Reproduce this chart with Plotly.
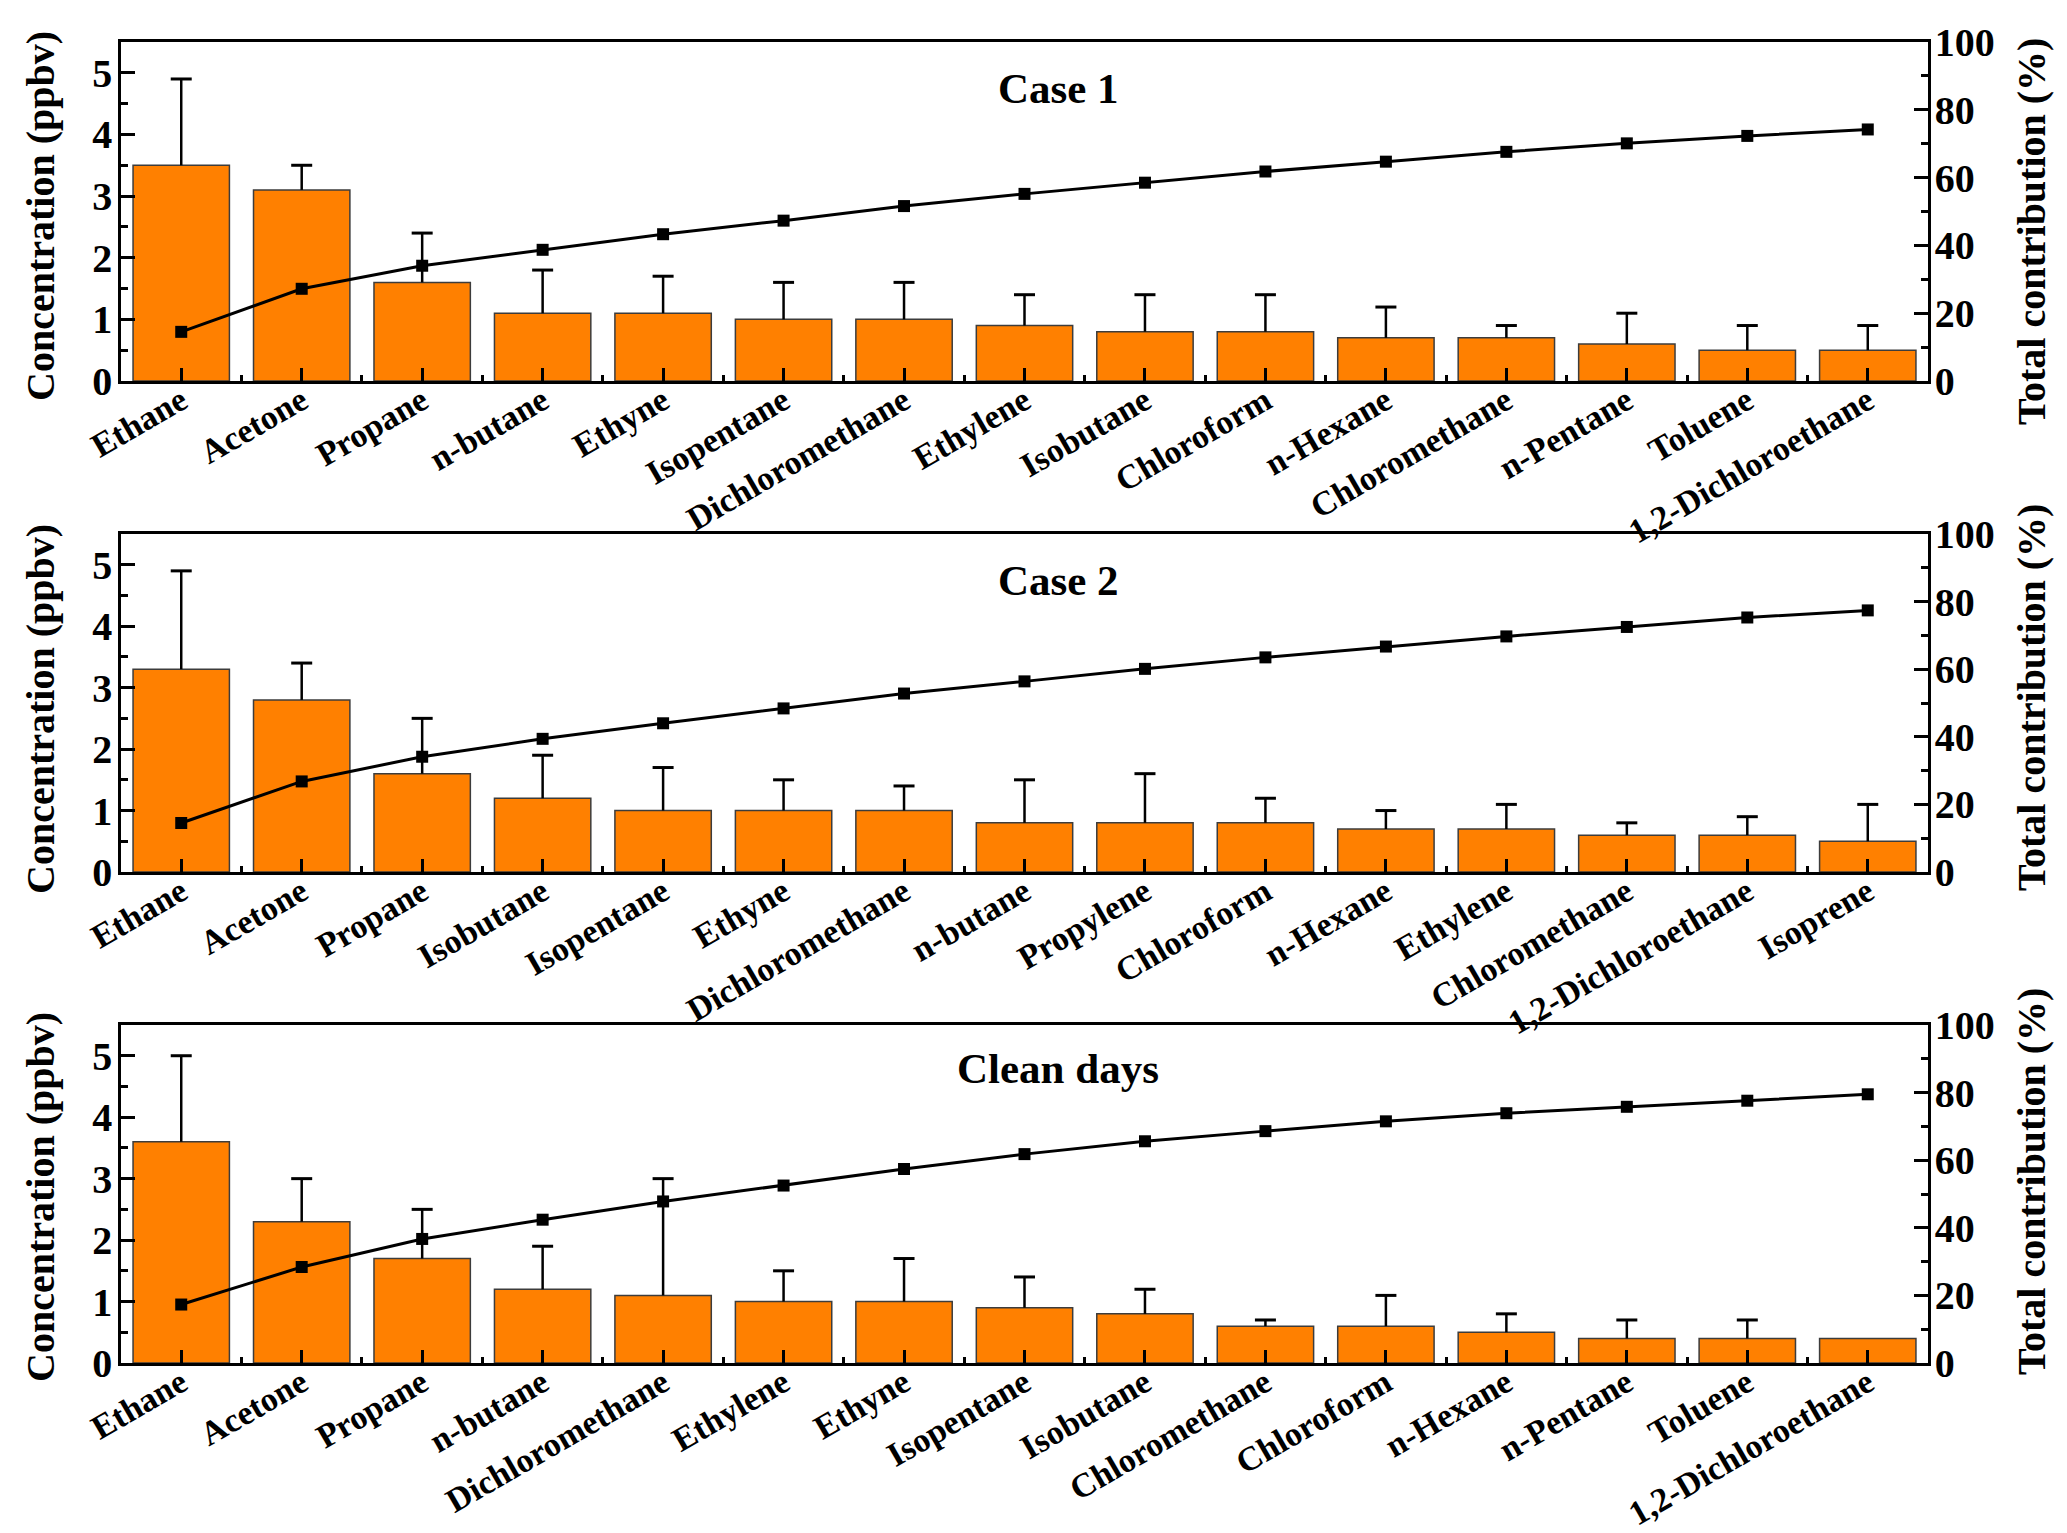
import plotly.graph_objects as go

# ---------------- data ----------------
case1_species = ["Ethane", "Acetone", "Propane", "n-butane", "Ethyne", "Isopentane",
                 "Dichloromethane", "Ethylene", "Isobutane", "Chloroform", "n-Hexane",
                 "Chloromethane", "n-Pentane", "Toluene", "1,2-Dichloroethane"]
case1_conc = [3.5, 3.1, 1.6, 1.1, 1.1, 1.0, 1.0, 0.9, 0.8, 0.8, 0.7, 0.7, 0.6, 0.5, 0.5]
case1_err = [1.4, 0.4, 0.8, 0.7, 0.6, 0.6, 0.6, 0.5, 0.6, 0.6, 0.5, 0.2, 0.5, 0.4, 0.4]
case1_cum = [14.5, 27.2, 34.0, 38.7, 43.3, 47.3, 51.6, 55.2, 58.5, 61.8, 64.7, 67.6, 70.1, 72.3, 74.2]

case2_species = ["Ethane", "Acetone", "Propane", "Isobutane", "Isopentane", "Ethyne",
                 "Dichloromethane", "n-butane", "Propylene", "Chloroform", "n-Hexane",
                 "Ethylene", "Chloromethane", "1,2-Dichloroethane", "Isoprene"]
case2_conc = [3.3, 2.8, 1.6, 1.2, 1.0, 1.0, 1.0, 0.8, 0.8, 0.8, 0.7, 0.7, 0.6, 0.6, 0.5]
case2_err = [1.6, 0.6, 0.9, 0.7, 0.7, 0.5, 0.4, 0.7, 0.8, 0.4, 0.3, 0.4, 0.2, 0.3, 0.6]
case2_cum = [14.5, 26.8, 34.1, 39.4, 44.0, 48.4, 52.8, 56.4, 60.1, 63.5, 66.7, 69.7, 72.5, 75.3, 77.4]

clean_species = ["Ethane", "Acetone", "Propane", "n-butane", "Dichloromethane", "Ethylene",
                 "Ethyne", "Isopentane", "Isobutane", "Chloromethane", "Chloroform",
                 "n-Hexane", "n-Pentane", "Toluene", "1,2-Dichloroethane"]
clean_conc = [3.6, 2.3, 1.7, 1.2, 1.1, 1.0, 1.0, 0.9, 0.8, 0.6, 0.6, 0.5, 0.4, 0.4, 0.4]
clean_err = [1.4, 0.7, 0.8, 0.7, 1.9, 0.5, 0.7, 0.5, 0.4, 0.1, 0.5, 0.3, 0.3, 0.3, 0.0]
clean_cum = [17.3, 28.4, 36.7, 42.4, 47.8, 52.5, 57.4, 61.8, 65.6, 68.6, 71.5, 73.9, 75.8, 77.6, 79.5]

panel_titles = ["Case 1", "Case 2", "Clean days"]
left_title = "Concentration (ppbv)"
right_title = "Total contribution (%)"

# ---------------- style ----------------
W, H = 2067, 1533
FONT = "Liberation Serif"
ORANGE = "#FF8000"
x_dom = [121 / W, 1928 / W]
panel_px = [(42, 381), (534, 872), (1025, 1363)]  # top, bottom pixel rows
title_y_px = [88, 580, 1068]
left_title_px = [216, 709, 1197]
right_title_px = [232, 698, 1182]

panels = [
    (case1_species, case1_conc, case1_err, case1_cum),
    (case2_species, case2_conc, case2_err, case2_cum),
    (clean_species, clean_conc, clean_err, clean_cum),
]

fig = go.Figure()
layout = dict(
    width=W, height=H,
    margin=dict(l=0, r=0, t=0, b=0, autoexpand=False),
    paper_bgcolor="white", plot_bgcolor="white",
    showlegend=False,
    font=dict(family=FONT, color="black"),
)
annotations = []

for k, (species, conc, err, cum) in enumerate(panels):
    n = k + 1
    xname = "x" if n == 1 else f"x{n}"
    yl = 2 * k + 1
    yr = 2 * k + 2
    ylname = "y" if yl == 1 else f"y{yl}"
    yrname = f"y{yr}"
    idx = list(range(len(species)))

    fig.add_trace(go.Bar(
        x=idx, y=conc, width=0.8,
        marker=dict(color=ORANGE, line=dict(color="#3c3c3c", width=1.5)),
        xaxis=xname, yaxis=ylname,
    ))
    # upper-only error bars
    ex, ey, cx, cy = [], [], [], []
    for i, v, e in zip(idx, conc, err):
        if e > 0:
            ex += [i, i, None]
            ey += [v, v + e, None]
            cx.append(i)
            cy.append(v + e)
    fig.add_trace(go.Scatter(
        x=ex, y=ey, mode="lines", line=dict(color="black", width=2.5),
        xaxis=xname, yaxis=ylname, hoverinfo="skip",
    ))
    fig.add_trace(go.Scatter(
        x=cx, y=cy, mode="markers",
        marker=dict(symbol="line-ew", size=15, line=dict(color="black", width=3)),
        xaxis=xname, yaxis=ylname,
    ))
    # cumulative contribution
    fig.add_trace(go.Scatter(
        x=idx, y=cum, mode="lines+markers",
        line=dict(color="black", width=3),
        marker=dict(symbol="square", size=12, color="black"),
        xaxis=xname, yaxis=yrname,
    ))

    top, bot = panel_px[k]
    ydom = [1 - bot / H, 1 - top / H]
    tickfont = dict(family=FONT, size=40, color="black", weight="bold")

    layout["xaxis" if n == 1 else f"xaxis{n}"] = dict(
        domain=x_dom, anchor=ylname, range=[-0.5, len(species) - 0.5],
        tickmode="array", tickvals=idx, ticktext=species, tickangle=-30,
        ticks="inside", ticklen=13, tickwidth=2.5, tickcolor="black",
        minor=dict(tick0=0.5, dtick=1, ticks="inside", ticklen=6, tickwidth=2.5, tickcolor="black"),
        showline=True, linewidth=2.5, linecolor="black", mirror=True,
        showgrid=False, zeroline=False, automargin=False,
        ticklabelstandoff=-16,
        tickfont=dict(family=FONT, size=34, color="black", weight="bold"),
    )
    layout["yaxis" if yl == 1 else f"yaxis{yl}"] = dict(
        domain=ydom, anchor=xname, range=[0, 5.5],
        tickmode="linear", tick0=0, dtick=1,
        ticks="inside", ticklen=14, tickwidth=2.5, tickcolor="black",
        minor=dict(tick0=0, dtick=0.5, ticks="inside", ticklen=7, tickwidth=2.5, tickcolor="black"),
        showline=True, linewidth=2.5, linecolor="black", mirror=False,
        showgrid=False, zeroline=False, ticklabelstandoff=-2, automargin=False,
        tickfont=tickfont,
    )
    layout[f"yaxis{yr}"] = dict(
        domain=ydom, anchor=xname, overlaying=ylname, side="right", range=[0, 100],
        tickmode="linear", tick0=0, dtick=20,
        ticks="inside", ticklen=14, tickwidth=2.5, tickcolor="black",
        minor=dict(tick0=0, dtick=10, ticks="inside", ticklen=7, tickwidth=2.5, tickcolor="black"),
        showline=True, linewidth=2.5, linecolor="black",
        showgrid=False, zeroline=False, ticklabelstandoff=-4, automargin=False,
        tickfont=tickfont,
    )

    annotations.append(dict(
        text=f"<b>{panel_titles[k]}</b>", xref="paper", yref="paper",
        x=1058 / W, y=1 - title_y_px[k] / H, xanchor="center", yanchor="middle",
        showarrow=False, font=dict(family=FONT, size=43, color="black"),
    ))
    annotations.append(dict(
        text=f"<b>{left_title}</b>", xref="paper", yref="paper",
        x=40 / W, y=1 - left_title_px[k] / H, xanchor="center", yanchor="middle",
        textangle=-90, showarrow=False, font=dict(family=FONT, size=40, color="black"),
    ))
    annotations.append(dict(
        text=f"<b>{right_title}</b>", xref="paper", yref="paper",
        x=2031 / W, y=1 - right_title_px[k] / H, xanchor="center", yanchor="middle",
        textangle=-90, showarrow=False, font=dict(family=FONT, size=40, color="black"),
    ))

layout["annotations"] = annotations
fig.update_layout(**layout)

fig.write_html(
    "out.html",
    config={"displayModeBar": False},
    post_script="document.body.style.margin='0';document.body.style.overflow='hidden';",
)
